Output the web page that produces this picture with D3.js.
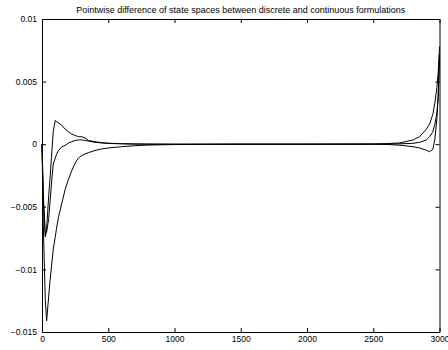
<!DOCTYPE html>
<html>
<head>
<meta charset="utf-8">
<script src="https://cdn.jsdelivr.net/npm/d3@7"></script>
<style>
	body { margin: 0; background: #fff; }
	svg { display: block; }
	text { font-family: "Liberation Sans", Arial, Helvetica, sans-serif; font-size: 8.5px; fill: #000; }
</style>
</head>
<body>
<svg id="chart" width="448" height="350"></svg>
<script>
var title = "Pointwise difference of state spaces between discrete and continuous formulations";

// sample positions (shared by the three curves)
var steps = [0, 10, 25, 35, 50, 60, 75, 85, 100, 110, 125, 150, 175, 200, 225, 250, 275, 300, 325, 350,
	400, 450, 500, 600, 700, 800, 1000, 1500, 2000, 2500, 2600, 2700, 2800, 2850, 2900, 2925, 2950, 2965, 2980, 2990, 3000];

var diffA = [0, -0.0045, -0.0074, -0.0068, -0.0042, -0.0028, -0.0005, 0.001, 0.0019, 0.0018, 0.0017, 0.0015, 0.0012, 0.001,
	0.0008, 0.0007, 0.0006, 0.0006, 0.0005, 0.0003,
	0.0002, 0.00012, 0.00008, 0.00004, 0.00002, 0.00001, 0, 0, 0, 0, 0, 0.00003, 0.00007, 0.00015, 0.00034, 0.0006, 0.001, 0.0016, 0.0025, 0.0037, 0.0072];

var diffB = [0, -0.004, -0.0072, -0.007, -0.006, -0.0047, -0.0027, -0.0016, -0.0011, -0.0008, -0.0005, -0.0002, -0.0001, 0.0001,
	0.0002, 0.0003, 0.00034, 0.00035, 0.0003, 0.00025,
	0.00015, 0.0001, 0.00006, 0.00003, 0.00001, 0, 0, 0, 0, 0.00002, 0.00005, 0.0001, 0.00034, 0.0006, 0.0012, 0.0016, 0.0024, 0.0033, 0.0045, 0.0057, 0.0078];

var diffC = [0, -0.0065, -0.0125, -0.0141, -0.0122, -0.011, -0.0094, -0.0084, -0.0074, -0.0067, -0.0058, -0.0047, -0.0036, -0.0028,
	-0.0021, -0.0015, -0.0011, -0.0009, -0.00078, -0.00068,
	-0.0005, -0.00038, -0.0003, -0.0002, -0.00012, -0.00007, -0.00003, 0, 0, 0, -0.00002, -0.00008, -0.0002, -0.0003, -0.00048, -0.0006, -0.0004, 0.0004, 0.002, 0.0038, 0.007];

var xTicks = [0, 500, 1000, 1500, 2000, 2500, 3000];
var yTicks = [-0.015, -0.01, -0.005, 0, 0.005, 0.01];
var yTickLabels = ["\u22120.015", "\u22120.01", "\u22120.005", "0", "0.005", "0.01"];

function draw() {
	var margin = {top: 19, right: 8.5, bottom: 18, left: 42};
	var svg = d3.select("#chart");
	var width = 448 - margin.left - margin.right;
	var height = 350 - margin.top - margin.bottom;

	var x = d3.scaleLinear().domain([0, 3000]).range([0, width]);
	var y = d3.scaleLinear().domain([-0.015, 0.01]).range([height, 0]);

	var g = svg.append("g")
		.attr("transform", "translate(" + margin.left + "," + margin.top + ")");

	svg.append("text")
		.attr("x", margin.left + width / 2)
		.attr("y", 13)
		.attr("text-anchor", "middle")
		.style("font-size", "9px")
		.text(title);

	// curves
	var line = d3.line()
		.x((d, i) => x(steps[i]))
		.y(d => y(d));

	g.selectAll("path.curve")
		.data([diffA, diffB, diffC])
		.enter()
		.append("path")
		.attr("class", "curve")
		.attr("d", line)
		.attr("fill", "none")
		.attr("stroke", "#000")
		.attr("stroke-width", 1);

	// box + inward ticks on all sides, matlab style
	var tickLen = 4;
	var axisStyle = function(sel) {
		sel.select(".domain").attr("stroke", "#000");
		sel.selectAll(".tick line").attr("stroke", "#000");
	};

	g.append("g")
		.attr("transform", "translate(0," + height + ")")
		.call(d3.axisBottom(x).tickValues(xTicks).tickSizeInner(-tickLen).tickSizeOuter(0).tickPadding(4).tickFormat(d3.format("d")))
		.call(axisStyle);

	g.append("g")
		.call(d3.axisTop(x).tickValues(xTicks).tickSizeInner(-tickLen).tickSizeOuter(0).tickFormat(""))
		.call(axisStyle);

	g.append("g")
		.call(d3.axisLeft(y).tickValues(yTicks).tickSizeInner(-tickLen).tickSizeOuter(0).tickPadding(5)
			.tickFormat((d, i) => yTickLabels[i]))
		.call(axisStyle);

	g.append("g")
		.attr("transform", "translate(" + width + ",0)")
		.call(d3.axisRight(y).tickValues(yTicks).tickSizeInner(-tickLen).tickSizeOuter(0).tickFormat(""))
		.call(axisStyle);

	svg.selectAll(".tick text").style("font-size", "8.5px").style("font-family", "'Liberation Sans', Arial, sans-serif");
}

window.addEventListener('DOMContentLoaded', draw);
</script>
</body>
</html>
